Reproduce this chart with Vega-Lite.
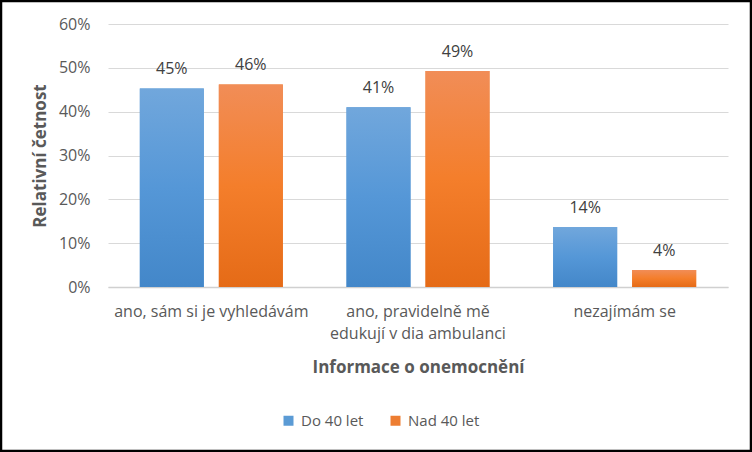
{
  "$schema": "https://vega.github.io/schema/vega-lite/v6.json",
  "width": 620,
  "height": 263,
  "autosize": {"type": "none"},
  "padding": {"left": 108, "top": 24, "right": 24, "bottom": 165},
  "background": "white",
  "config": {
    "font": "Open Sans",
    "view": {"stroke": null},
    "axis": {"labelFont": "Open Sans", "titleFont": "Open Sans"}
  },
  "data": {
    "values": [
      {"kategorie": "ano, sám si je vyhledávám", "skupina": "Do 40 let", "hodnota": 0.453},
      {"kategorie": "ano, sám si je vyhledávám", "skupina": "Nad 40 let", "hodnota": 0.462},
      {"kategorie": "ano, pravidelně mě edukují v dia ambulanci", "skupina": "Do 40 let", "hodnota": 0.41},
      {"kategorie": "ano, pravidelně mě edukují v dia ambulanci", "skupina": "Nad 40 let", "hodnota": 0.493},
      {"kategorie": "nezajímám se", "skupina": "Do 40 let", "hodnota": 0.137},
      {"kategorie": "nezajímám se", "skupina": "Nad 40 let", "hodnota": 0.039}
    ]
  },
  "encoding": {
    "x": {
      "field": "kategorie",
      "type": "nominal",
      "sort": null,
      "scale": {"paddingInner": 0.308, "paddingOuter": 0.154},
      "axis": {
        "title": "Informace o onemocnění",
        "titleFontSize": 17,
        "titleFontWeight": "bold",
        "titleColor": "#595959",
        "titlePadding": 18,
        "labelAngle": 0,
        "labelFontSize": 16,
        "labelColor": "#595959",
        "labelPadding": 16,
        "labelLimit": 0,
        "labelLineHeight": 22,
        "labelExpr": "datum.value == 'ano, pravidelně mě edukují v dia ambulanci' ? ['ano, pravidelně mě', 'edukují v dia ambulanci'] : datum.value",
        "ticks": false,
        "domainColor": "#D0D0D0",
        "domainWidth": 1.5,
        "grid": false
      }
    },
    "xOffset": {
      "field": "skupina",
      "type": "nominal",
      "scale": {"paddingInner": 0.19, "paddingOuter": 0}
    },
    "y": {
      "field": "hodnota",
      "type": "quantitative",
      "scale": {"domain": [0, 0.6], "nice": false},
      "axis": {
        "title": "Relativní četnost",
        "titleFontSize": 17,
        "titleFontWeight": "bold",
        "titleColor": "#595959",
        "titlePadding": 9,
        "format": ".0%",
        "values": [0, 0.1, 0.2, 0.3, 0.4, 0.5, 0.6],
        "labelFontSize": 16,
        "labelColor": "#595959",
        "labelPadding": 18,
        "ticks": false,
        "domain": false,
        "gridColor": "#D9D9D9",
        "gridWidth": 1
      }
    }
  },
  "layer": [
    {
      "mark": {"type": "bar"},
      "encoding": {
        "color": {
          "field": "skupina",
          "type": "nominal",
          "scale": {"domain": ["Do 40 let", "Nad 40 let"], "range": ["#5B9BD5", "#ED7D31"]},
          "legend": {
            "title": null,
            "orient": "none",
            "direction": "horizontal",
            "legendX": 173,
            "legendY": 389,
            "symbolType": "square",
            "symbolSize": 100,
            "symbolStrokeWidth": 0,
            "labelFontSize": 15,
            "labelColor": "#595959",
            "labelFont": "Open Sans",
            "columnPadding": 24,
            "labelOffset": 5
          }
        }
      }
    },
    {
      "transform": [{"filter": "datum.skupina == 'Do 40 let'"}],
      "mark": {
        "type": "bar",
        "fill": {
          "gradient": "linear", "x1": 0, "y1": 0, "x2": 0, "y2": 1,
          "stops": [{"offset": 0, "color": "#71A7DC"}, {"offset": 0.5, "color": "#5597D7"}, {"offset": 1, "color": "#4387C9"}]
        }
      }
    },
    {
      "transform": [{"filter": "datum.skupina == 'Nad 40 let'"}],
      "mark": {
        "type": "bar",
        "fill": {
          "gradient": "linear", "x1": 0, "y1": 0, "x2": 0, "y2": 1,
          "stops": [{"offset": 0, "color": "#F18D57"}, {"offset": 0.5, "color": "#F47E2B"}, {"offset": 1, "color": "#E56B17"}]
        }
      }
    },
    {
      "mark": {"type": "text", "dy": -11, "fontSize": 16, "color": "#404040", "font": "Open Sans", "baseline": "bottom"},
      "encoding": {
        "text": {"field": "hodnota", "type": "quantitative", "format": ".0%"}
      }
    },
    {
      "data": {"values": [{"ramecek": 1}]},
      "mark": {"type": "rect", "fill": null, "stroke": "#000000", "strokeWidth": 2.5},
      "encoding": {
        "x": {"value": -107},
        "x2": {"value": 643},
        "y": {"value": -23},
        "y2": {"value": 427},
        "xOffset": null
      }
    }
  ]
}
